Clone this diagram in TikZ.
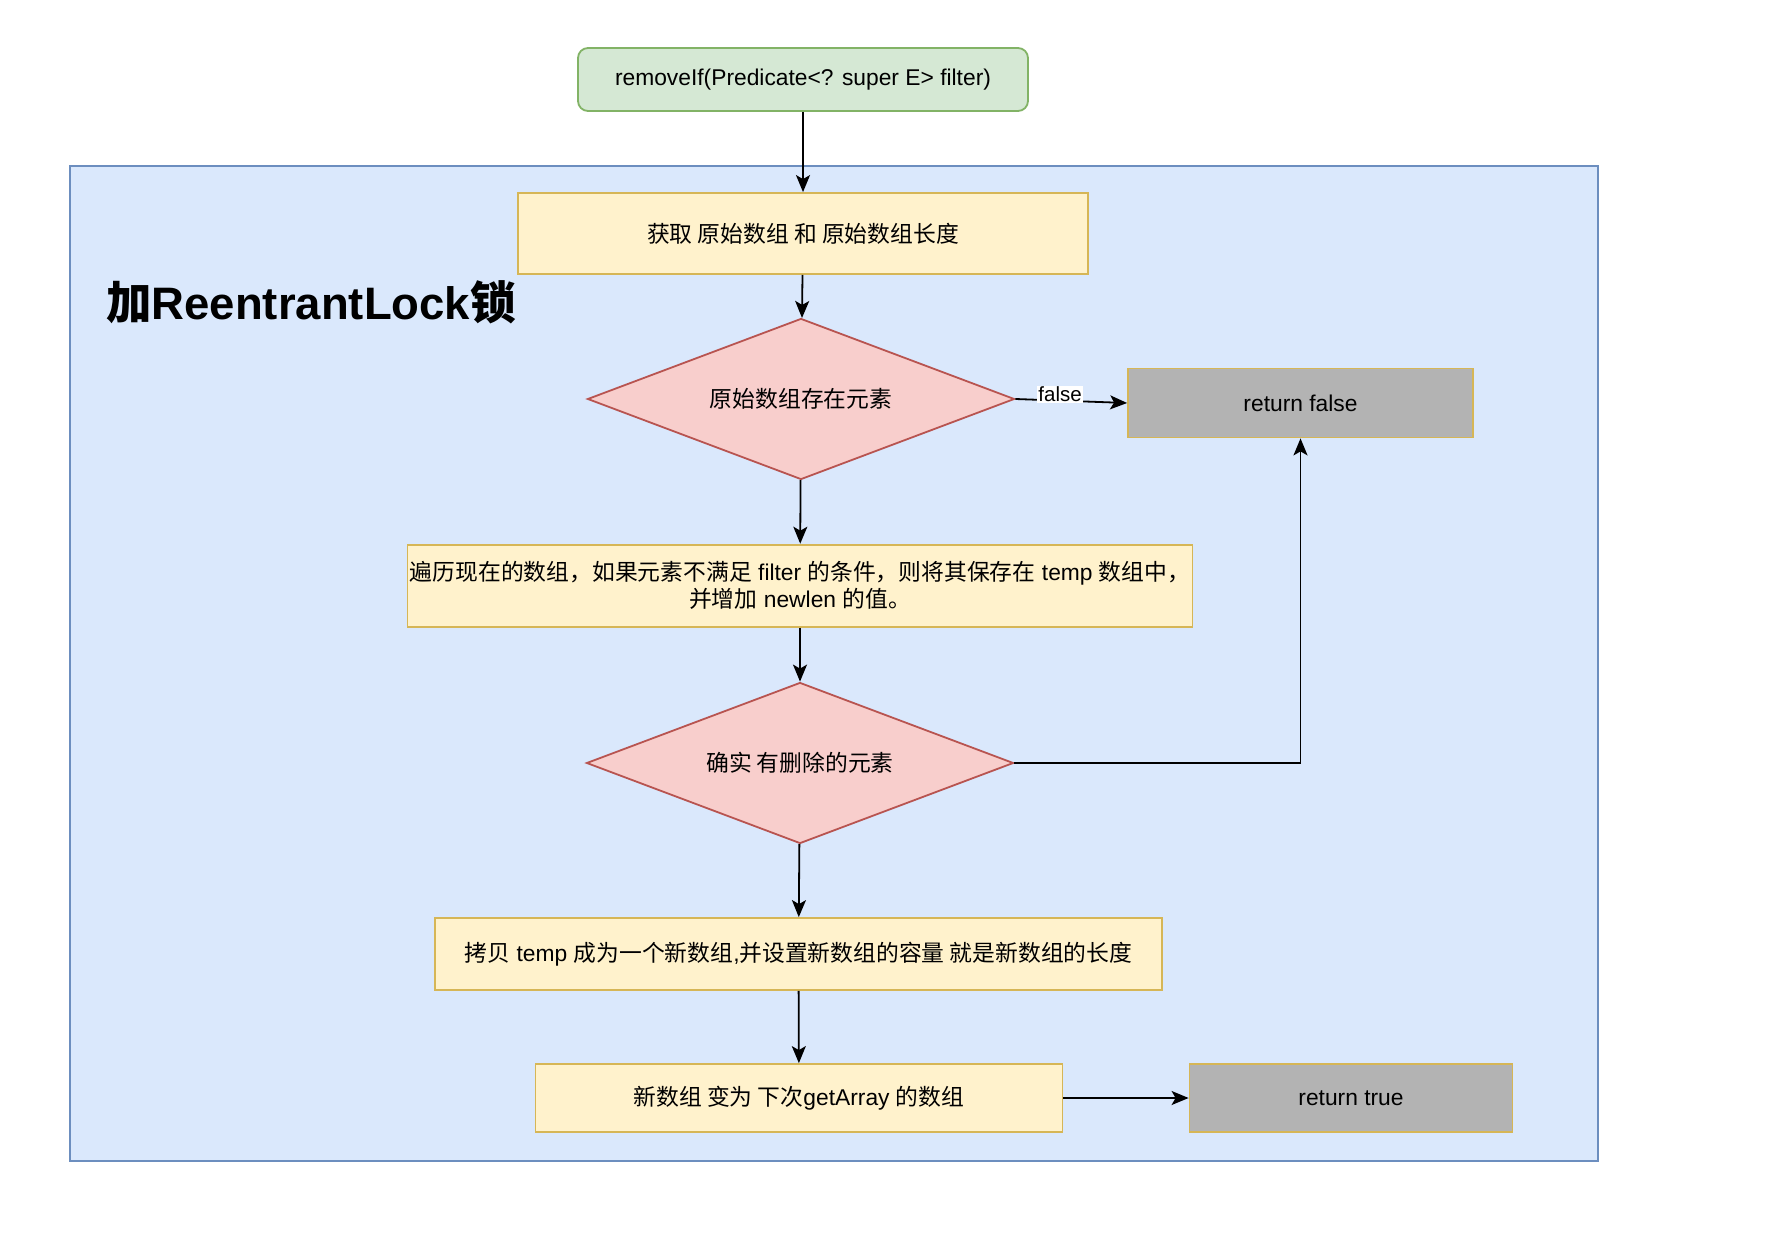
\documentclass[tikz,border=0pt]{standalone}
\usepackage{fontspec}
\setmainfont{Liberation Sans}
\newfontfamily\cjk{Noto Sans CJK SC}
\usetikzlibrary{arrows.meta,shapes.geometric}
\definecolor{gfill}{HTML}{D5E8D4}
\definecolor{gstroke}{HTML}{82B366}
\definecolor{bfill}{HTML}{DAE8FC}
\definecolor{bstroke}{HTML}{6C8EBF}
\definecolor{yfill}{HTML}{FFF2CC}
\definecolor{ystroke}{HTML}{D6B656}
\definecolor{rfill}{HTML}{F8CECC}
\definecolor{rstroke}{HTML}{B85450}
\definecolor{grayfill}{HTML}{B3B3B3}
\newcommand{\zh}[1]{{\cjk #1}}
\begin{document}
\begin{tikzpicture}[x=1pt,y=-1pt,
  base/.style={draw, line width=1.8pt, inner sep=0pt, align=center,
    font=\fontsize{22.8}{27}\selectfont},
  procbox/.style={base, fill=yfill, draw=ystroke},
  endbox/.style={base, fill=grayfill, draw=ystroke},
  startbox/.style={base, fill=gfill, draw=gstroke, rounded corners=10pt},
  decision/.style={base, diamond, shape aspect=2.65, fill=rfill, draw=rstroke},
  container/.style={draw=bstroke, fill=bfill, line width=1.8pt, inner sep=0pt},
  arr/.style={line width=1.8pt, -{Stealth[length=17pt,width=14pt,inset=4pt]}},
  lbl/.style={fill=white, inner sep=1pt, font=\fontsize{20.5}{24}\selectfont}]
\useasboundingbox (0,0) rectangle (1790,1238);
\node[container, minimum width=1528pt, minimum height=995pt] (cont) at (834,663.5) {};
\node[anchor=west, inner sep=0pt, font=\fontsize{45.5}{52}\selectfont\bfseries] (title) at (106,302) {\zh{加}ReentrantLock\zh{锁}};
\node[startbox, minimum width=450pt, minimum height=63pt] (start) at (803,79.5) {removeIf(Predicate<? super E> filter)};
\node[procbox, minimum width=570pt, minimum height=81pt] (b1) at (803,233.5) {\zh{获取 原始数组 和 原始数组长度}};
\node[decision, minimum width=427pt, minimum height=161pt] (d1) at (801,399) {\zh{原始数组存在元素}};
\node[endbox, minimum width=345pt, minimum height=69pt] (rf) at (1300.5,403) {return false};
\node[procbox, minimum width=785pt, minimum height=82pt] (b2) at (800,585.6) {\zh{遍历现在的数组，如果元素不满足} filter \zh{的条件，则将其保存在} temp \zh{数组中，}\\\zh{并增加} newlen \zh{的值。}};
\node[decision, minimum width=427pt, minimum height=161pt] (d2) at (800,763) {\zh{确实 有删除的元素}};
\node[procbox, minimum width=727pt, minimum height=72pt] (b3) at (798.5,954) {\zh{拷贝} temp \zh{成为一个新数组}{,}\zh{并设置新数组的容量 就是新数组的长度}};
\node[procbox, minimum width=527pt, minimum height=68pt] (b4) at (799,1098) {\zh{新数组 变为 下次}getArray \zh{的数组}};
\node[endbox, minimum width=323pt, minimum height=68pt] (rt) at (1351,1098) {return true};
\draw[arr] (start) -- (b1);
\draw[arr] (b1) -- (d1);
\draw[arr] (d1.east) -- node[lbl, pos=0.4, yshift=6pt] {false} (rf.west);
\draw[arr] (d1) -- (b2);
\draw[arr] (b2) -- (d2);
\draw[arr] (d2.east) -| (rf.south);
\draw[arr] (d2) -- (b3);
\draw[arr] (b3) -- (b4);
\draw[arr] (b4) -- (rt);
\end{tikzpicture}
\end{document}
